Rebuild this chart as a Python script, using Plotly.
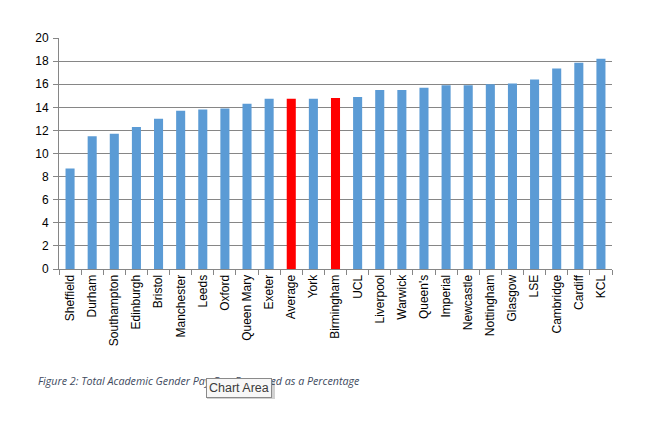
import plotly.graph_objects as go

universities = ["Sheffield", "Durham", "Southampton", "Edinburgh", "Bristol", "Manchester",
                "Leeds", "Oxford", "Queen Mary", "Exeter", "Average", "York", "Birmingham",
                "UCL", "Liverpool", "Warwick", "Queen's", "Imperial", "Newcastle",
                "Nottingham", "Glasgow", "LSE", "Cambridge", "Cardiff", "KCL"]
pay_gap = [8.7, 11.5, 11.7, 12.3, 13.0, 13.7, 13.8, 13.9, 14.3, 14.75, 14.75, 14.75, 14.8,
           14.9, 15.5, 15.5, 15.7, 15.9, 15.9, 16.0, 16.05, 16.4, 17.35, 17.85, 18.2]
highlighted = ["Average", "Birmingham"]

BLUE = "#5B9BD5"
RED = "#FF0000"
GRID = "#868686"
colors = [RED if u in highlighted else BLUE for u in universities]

W, H = 668, 441
L, R, T, B = 59, 56, 38, 172
pw, ph = W - L - R, H - T - B

def px(x):
    return (x - L) / pw

def py(y):
    return (H - B - y) / ph

fig = go.Figure(go.Bar(x=universities, y=pay_gap, marker=dict(color=colors, line_width=0),
                       hoverinfo="x+y"))

fig.update_layout(
    width=W, height=H,
    margin=dict(l=L, r=R, t=T, b=B, pad=0),
    paper_bgcolor="white", plot_bgcolor="white",
    bargap=0.59,
    showlegend=False,
    font=dict(family="Liberation Sans, Arial, sans-serif", size=12, color="#000000"),
)
fig.update_yaxes(range=[0, 20], dtick=2, showgrid=True, gridcolor=GRID, gridwidth=1,
                 showline=True, linecolor=GRID, linewidth=1, ticks="outside", ticklen=5,
                 tickcolor=GRID, zeroline=False, tickfont=dict(size=12),
                 ticklabelstandoff=2)
fig.update_xaxes(showline=True, linecolor=GRID, linewidth=1, ticks="outside", ticklen=5,
                 tickcolor=GRID, tickson="boundaries", tickangle=-90,
                 tickfont=dict(size=12), showgrid=False)

# caption
fig.add_annotation(xref="paper", yref="paper", x=px(36), y=py(381), xanchor="left",
                   yanchor="middle", showarrow=False,
                   text="Figure 2: Total Academic Gender Pay Gap Expressed as a Percentage",
                   font=dict(family="Open Sans, sans-serif", size=10.7, color="#3E4A5E",
                             style="italic"))

# tooltip shadow
fig.add_shape(type="rect", xref="paper", yref="paper",
              x0=px(207), x1=px(275), y0=py(399), y1=py(381),
              fillcolor="rgba(0,0,0,0.18)", line_width=0, layer="above")
# tooltip
fig.add_annotation(xref="paper", yref="paper", x=px(238.5), y=py(388), xanchor="center",
                   yanchor="middle", showarrow=False, text="Chart Area",
                   bgcolor="#F7F7F7", bordercolor="#8A8A8A", borderwidth=1, borderpad=2,
                   font=dict(family="Liberation Sans, Arial, sans-serif", size=12.5,
                             color="#3A3A3A"))

fig.write_html("out.html", config={"displayModeBar": False},
               post_script="document.body.style.margin='0';")
